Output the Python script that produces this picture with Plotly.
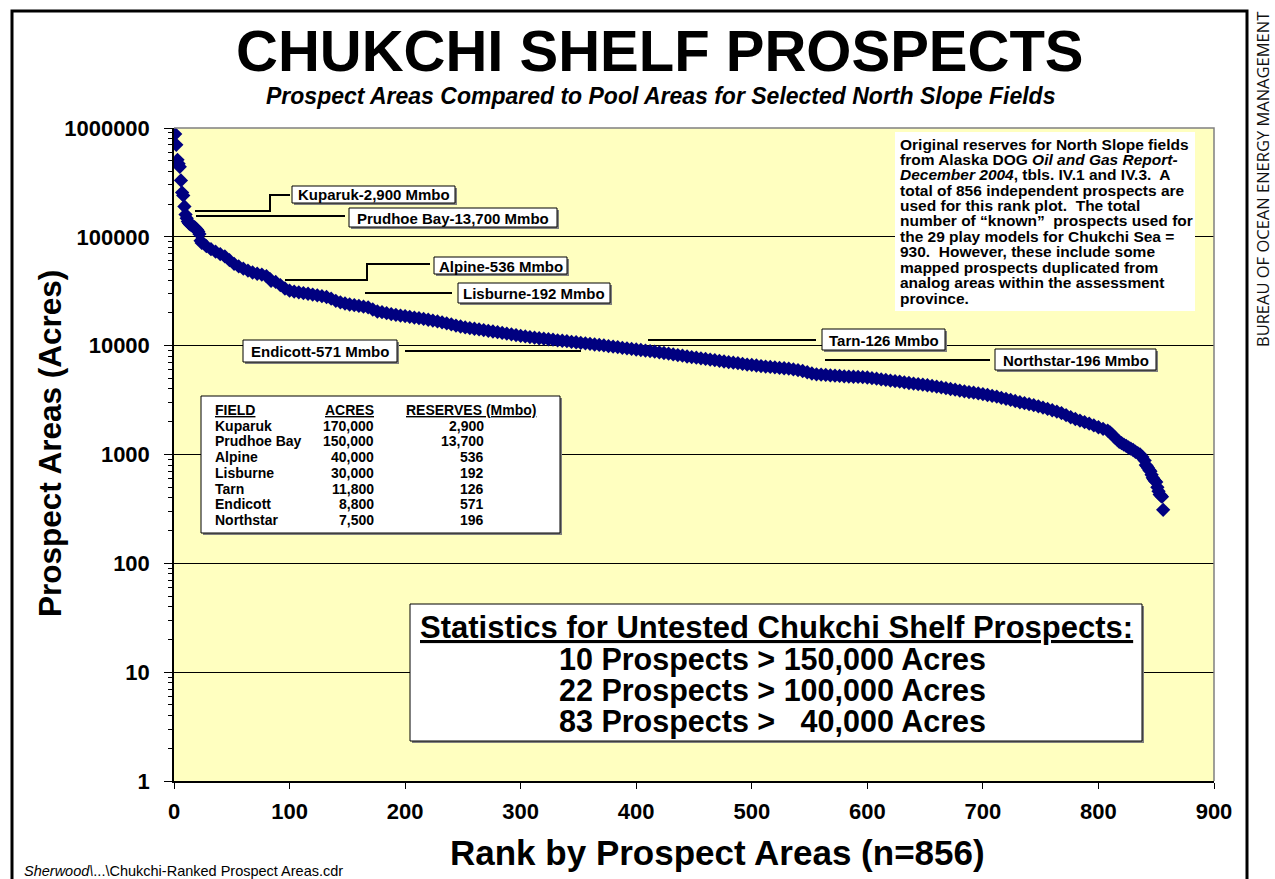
import plotly.graph_objects as go

# ---------------- data ----------------
ranks = [1, 2, 3, 4, 5, 6, 7, 8, 9, 10, 11, 12, 13, 14, 15, 16, 17, 18, 19, 20, 21, 22, 23, 24,
         28, 32, 36, 40, 44, 48, 52, 56, 60, 64, 68, 72, 76, 80, 83, 84, 88, 92, 96,
         100, 104, 108, 112, 116, 120, 124, 128, 132, 136, 140, 144, 148, 152, 156, 160, 164, 168,
         172, 176, 180, 184, 188, 192, 196, 200, 204, 208, 212, 216, 220, 224, 228, 232, 236, 240,
         244, 248, 252, 256, 260, 264, 268, 272, 276, 280, 284, 288, 292, 296, 300, 304, 308, 312,
         316, 320, 324, 328, 332, 336, 340, 344, 348, 352, 356, 360, 364, 368, 372, 376, 380, 384,
         388, 392, 396, 400, 404, 408, 412, 416, 420, 424, 428, 432, 436, 440, 444, 448, 452, 456,
         460, 464, 468, 472, 476, 480, 484, 488, 492, 496, 500, 504, 508, 512, 516, 520, 524, 528,
         532, 536, 540, 544, 548, 552, 556, 560, 564, 568, 572, 576, 580, 584, 588, 592, 596, 600,
         604, 608, 612, 616, 620, 624, 628, 632, 636, 640, 644, 648, 652, 656, 660, 664, 668, 672,
         676, 680, 684, 688, 692, 696, 700, 704, 708, 712, 716, 720, 724, 728, 732, 736, 740, 744,
         748, 752, 756, 760, 764, 768, 772, 776, 780, 784, 788, 792, 796, 800, 804, 808, 810, 812,
         814, 816, 818, 820, 822, 824, 826, 828, 830, 832, 834, 836, 838, 840, 841, 842, 843, 844,
         845, 846, 847, 848, 849, 850, 851, 852, 853, 854, 855, 856]
areas = [880000, 700000, 510000, 470000, 440000, 330000, 255000, 240000, 190000, 160000, 148000,
         138000, 133000, 130000, 128000, 126000, 124000, 122000, 119000, 116000, 112000, 106000,
         92000, 88000,
         82000, 77000, 73000, 69500, 66000, 61000, 56500, 53500, 51000, 49000, 47000, 45800, 45000,
         43500, 41000, 39500, 38500, 36000, 33500,
         32000, 31400, 30900, 30400, 30000, 29500, 29000, 28500, 28000, 27000, 25800, 25000, 24400,
         23900, 23600, 23200, 22800, 22500,
         21500, 20600, 20300, 19900, 19500, 19200, 18900, 18700, 18400, 18100, 17900, 17600, 17300,
         17000, 16700, 16400, 16000, 15700,
         15300, 15000, 14700, 14500, 14300, 14100, 13900, 13700, 13500, 13300, 13100, 12900, 12700,
         12500, 12300, 12150, 12000, 11850,
         11700, 11600, 11450, 11350, 11200, 11100, 11000, 10850, 10750, 10600, 10500, 10400, 10250,
         10150, 10050, 9900, 9800, 9700,
         9550, 9450, 9330, 9220, 9120, 9020, 8920, 8800, 8680, 8560, 8450, 8300, 8200, 8100, 7950,
         7850, 7750, 7650,
         7550, 7450, 7350, 7250, 7150, 7050, 6980, 6900, 6800, 6700, 6650, 6570, 6500, 6430, 6380,
         6320, 6250, 6200,
         6150, 6050, 5950, 5850, 5700, 5550, 5450, 5420, 5380, 5330, 5300, 5270, 5230, 5200, 5180,
         5160, 5130, 5100,
         5030, 4970, 4900, 4840, 4780, 4720, 4670, 4600, 4540, 4480, 4430, 4380, 4330, 4270, 4200,
         4140, 4070, 4000,
         3940, 3870, 3810, 3750, 3700, 3640, 3580, 3520, 3460, 3400, 3320, 3250, 3170, 3100, 3020,
         2960, 2900, 2840,
         2770, 2700, 2620, 2550, 2480, 2400, 2300, 2200, 2120, 2050, 1980, 1920, 1850, 1780, 1720,
         1660, 1600, 1520,
         1440, 1380, 1310, 1270, 1230, 1200, 1160, 1130, 1100, 1060, 1030, 1000, 950, 880, 800, 780,
         750, 720,
         700, 650, 610, 590, 570, 560, 500, 460, 430, 420, 410, 310]

x_ticks = [0, 100, 200, 300, 400, 500, 600, 700, 800, 900]
y_tick_vals = [1, 10, 100, 1000, 10000, 100000, 1000000]
y_tick_text = ["1", "10", "100", "1000", "10000", "100000", "1000000"]

fields = ["Kuparuk", "Prudhoe Bay", "Alpine", "Lisburne", "Tarn", "Endicott", "Northstar"]
acres = ["170,000", "150,000", "40,000", "30,000", "11,800", "8,800", "7,500"]
reserves = ["2,900", "13,700", "536", "192", "126", "571", "196"]
table_headers = ["FIELD", "ACRES", "RESERVES (Mmbo)"]

field_labels = ["Kuparuk-2,900 Mmbo", "Prudhoe Bay-13,700 Mmbo", "Alpine-536 Mmbo",
                "Lisburne-192 Mmbo", "Endicott-571 Mmbo", "Tarn-126 Mmbo", "Northstar-196 Mmbo"]

note_lines = [
    "Original reserves for North Slope fields",
    "from Alaska DOG <i>Oil and Gas Report-</i>",
    "<i>December 2004</i>, tbls. IV.1 and IV.3.\u00a0 A",
    "total of 856 independent prospects are",
    "used for this rank plot.\u00a0 The total",
    "number of \u201cknown\u201d\u00a0 prospects used for",
    "the 29 play models for Chukchi Sea =",
    "930.\u00a0 However, these include some",
    "mapped prospects duplicated from",
    "analog areas within the assessment",
    "province.",
]

stats_title = "<u>Statistics for Untested Chukchi Shelf Prospects:</u>"
stats_lines = [
    "10 Prospects > 150,000 Acres",
    "22 Prospects > 100,000 Acres",
    "83 Prospects >\u00a0\u00a0 40,000 Acres",
]

# ---------------- page geometry ----------------
W, H = 1275, 879
L, R, T, B = 174, 61, 128, 98
PW, PH = W - L - R, H - T - B
FONT = "Liberation Sans, Arial, sans-serif"


def px(x):
    return (x - L) / PW


def py(y):
    return 1 - (y - T) / PH


shapes = []
annotations = []


def rect(x0, y0, x1, y1, fill="white", line="black", lw=1, shadow=False):
    if shadow:
        shapes.append(dict(type="rect", xref="paper", yref="paper", x0=px(x0 + 2), x1=px(x1 + 2),
                           y0=py(y0 + 2), y1=py(y1 + 2), fillcolor="#7f7f7f", line=dict(width=0)))
    shapes.append(dict(type="rect", xref="paper", yref="paper", x0=px(x0), x1=px(x1),
                       y0=py(y0), y1=py(y1), fillcolor=fill,
                       line=dict(color=line, width=lw) if lw else dict(width=0)))


def path(points, width=2, color="black"):
    d = "M " + " L ".join(f"{px(x):.5f},{py(y):.5f}" for x, y in points)
    shapes.append(dict(type="path", xref="paper", yref="paper", path=d,
                       line=dict(color=color, width=width)))


def text(x, y, s, size, xanchor="center", bold=True, italic=False, angle=0, family=FONT,
         color="black"):
    annotations.append(dict(x=px(x), y=py(y), xref="paper", yref="paper", text=s, showarrow=False,
                            xanchor=xanchor, yanchor="middle", textangle=angle,
                            font=dict(family=family, size=size, color=color,
                                      weight="bold" if bold else "normal",
                                      style="italic" if italic else "normal")))


# outer frame and plot border
shapes.append(dict(type="rect", xref="paper", yref="paper", x0=px(12), x1=px(1247),
                   y0=py(11), y1=py(910), line=dict(color="black", width=3)))
path([(174, 128), (1214, 128), (1214, 781)], width=1.5, color="#808080")

# titles
text(660, 51, "CHUKCHI SHELF PROSPECTS", 58)
text(660, 96, "Prospect Areas Compared to Pool Areas for Selected North Slope Fields", 23,
     italic=True)
text(717, 852, "Rank by Prospect Areas (n=856)", 35)
text(50, 444, "Prospect Areas (Acres)", 31.5, angle=-90)
text(1263, 180, "BUREAU OF OCEAN ENERGY MANAGEMENT", 16.5, bold=False, angle=-90,
     family="Open Sans, sans-serif", color="#111111")
text(22, 871, "<i>Sherwood\\</i>...\\Chukchi-Ranked Prospect Areas.cdr", 14.5, xanchor="left",
     bold=False)

# field label boxes + leader lines
label_boxes = [(292, 186, 455, 203), (349, 208, 557, 227), (434, 257, 567, 274),
               (458, 283, 610, 303), (243, 340, 397, 362), (822, 329, 945, 350),
               (995, 349, 1156, 370)]
leaders = [[(195, 211), (270, 211), (270, 195), (290, 195)],
           [(196, 216), (345, 216)],
           [(285, 280), (367, 280), (367, 264), (430, 264)],
           [(365, 293), (452, 293)],
           [(405, 351), (581, 351)],
           [(648, 340), (816, 340)],
           [(825, 360), (990, 360)]]
for lab, (x0, y0, x1, y1), ld in zip(field_labels, label_boxes, leaders):
    path(ld, width=2)
    rect(x0, y0, x1, y1, shadow=True)
    text((x0 + x1) / 2, (y0 + y1) / 2 + 0.5, lab, 15)

# note box
rect(895, 132, 1195, 311, lw=0)
for i, ln in enumerate(note_lines):
    text(898, 144 + i * 15.4, ln, 15.5, xanchor="left")

# table box
rect(201, 396, 560, 533, shadow=True)
row_y = [410 + i * 15.7 for i in range(8)]
text(213, row_y[0], "<u>" + table_headers[0] + "</u>", 14, xanchor="left")
text(376, row_y[0], "<u>" + table_headers[1] + "</u>", 14, xanchor="right")
text(404, row_y[0], "<u>" + table_headers[2] + "</u>", 14, xanchor="left")
for i, (f, a, r) in enumerate(zip(fields, acres, reserves)):
    yy = row_y[i + 1]
    text(213, yy, f, 14, xanchor="left")
    text(376, yy, a, 14, xanchor="right")
    text(486, yy, r, 14, xanchor="right")

# statistics box
rect(410, 604, 1142, 741, shadow=True)
text(776, 627, stats_title, 31)
for i, ln in enumerate(stats_lines):
    text(772, 659 + i * 31, ln, 30.5)

fig = go.Figure(go.Scatter(
    x=ranks, y=areas, mode="markers",
    marker=dict(symbol="diamond", size=11, color="#000080", line=dict(width=0)),
    hoverinfo="x+y",
))

fig.update_layout(
    width=W, height=H,
    margin=dict(l=L, r=R, t=T, b=B, pad=0),
    paper_bgcolor="white", plot_bgcolor="#FFFFC0",
    showlegend=False,
    font=dict(family=FONT, color="black"),
    shapes=shapes, annotations=annotations,
    xaxis=dict(range=[0, 900], tickvals=x_ticks, ticks="outside", ticklen=6, tickwidth=1,
               tickcolor="black", showline=True, linecolor="black", linewidth=1.5,
               showgrid=False, zeroline=False, ticklabelstandoff=4,
               tickfont=dict(size=22, weight="bold", family=FONT)),
    yaxis=dict(type="log", range=[0, 6], tickvals=y_tick_vals, ticktext=y_tick_text,
               ticks="outside", ticklen=8, tickwidth=1, tickcolor="black",
               showline=True, linecolor="black", linewidth=1.5,
               showgrid=True, gridcolor="black", gridwidth=1, zeroline=False,
               ticklabelstandoff=10,
               minor=dict(ticks="outside", ticklen=4, tickcolor="black", dtick="D1",
                          showgrid=False),
               tickfont=dict(size=22, weight="bold", family=FONT)),
)

fig.write_html("out.html", config={"displayModeBar": False},
               post_script="document.body.style.margin='0';")
